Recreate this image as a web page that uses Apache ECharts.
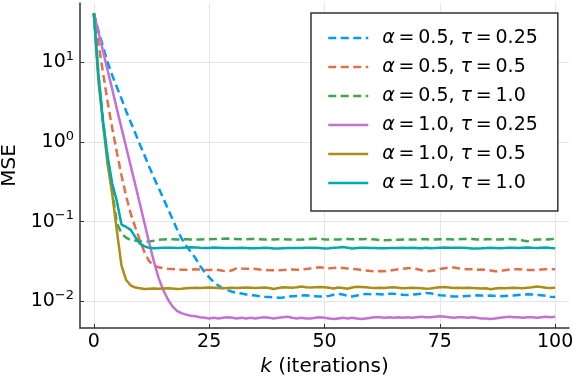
<!DOCTYPE html>
<html>
<head>
<meta charset="utf-8">
<script src="https://cdn.jsdelivr.net/npm/echarts@6/dist/echarts.min.js"></script>
<style>
html,body{margin:0;padding:0;background:#fff}
#main{width:576px;height:384px}
</style>
</head>
<body>
<div id="main"></div>
<script>
// MSE per iteration k = 0..100
var names = ['α = 0.5, τ = 0.25', 'α = 0.5, τ = 0.5', 'α = 0.5, τ = 1.0',
             'α = 1.0, τ = 0.25', 'α = 1.0, τ = 0.5', 'α = 1.0, τ = 1.0'];
var colors = ['#009AFA', '#E36F47', '#3EA44E', '#C371D2', '#AC8D18', '#00A9AD'];
var dashed = [true, true, true, false, false, false];

var xTicks = [0, 25, 50, 75, 100];
var yTicks = [0.01, 0.1, 1, 10];

var mseA05T025 = [41.7, 25.1, 15.8, 10.0, 6.9, 4.9, 3.5, 2.45, 1.78, 1.29,
  0.93, 0.68, 0.49, 0.36, 0.27, 0.20, 0.148, 0.110, 0.081, 0.062,
  0.050, 0.042, 0.035, 0.028, 0.0234, 0.020, 0.0174, 0.0158, 0.0145, 0.0138,
  0.0132, 0.0127, 0.0125, 0.0122, 0.0120, 0.0118, 0.0116, 0.0114, 0.0113, 0.0112,
  0.0111, 0.0112, 0.0114, 0.0116, 0.0117, 0.0118, 0.0119, 0.0117, 0.0116, 0.0115,
  0.0115, 0.0117, 0.0121, 0.0124, 0.0122, 0.0117, 0.0115, 0.0118, 0.0121, 0.0124,
  0.0123, 0.0124, 0.0123, 0.0122, 0.0124, 0.0124, 0.0123, 0.0121, 0.0120, 0.0121,
  0.0123, 0.0125, 0.0127, 0.0126, 0.0122, 0.0119, 0.0118, 0.0116, 0.0115, 0.0115,
  0.0116, 0.0117, 0.0118, 0.0119, 0.0118, 0.0117, 0.0118, 0.0117, 0.0116, 0.0117,
  0.0118, 0.0118, 0.0120, 0.0121, 0.0123, 0.0122, 0.0120, 0.0119, 0.0117, 0.0114,
  0.0113];

var mseA05T05 = [41.7, 17.4, 7.4, 3.16, 1.48, 0.74, 0.38, 0.21, 0.126, 0.085,
  0.058, 0.041, 0.032, 0.028, 0.0268, 0.0262, 0.0257, 0.0255, 0.0252, 0.0250,
  0.0249, 0.0250, 0.0252, 0.0251, 0.0249, 0.0248, 0.0250, 0.0247, 0.0242, 0.0238,
  0.0245, 0.0262, 0.0258, 0.0256, 0.0257, 0.0255, 0.0251, 0.0248, 0.0246, 0.0245,
  0.0245, 0.0247, 0.0250, 0.0251, 0.0249, 0.0251, 0.0255, 0.0259, 0.0263, 0.0267,
  0.0264, 0.0260, 0.0262, 0.0266, 0.0262, 0.0258, 0.0256, 0.0252, 0.0248, 0.0244,
  0.0240, 0.0238, 0.0240, 0.0239, 0.0243, 0.0248, 0.0252, 0.0256, 0.0260, 0.0262,
  0.0255, 0.0246, 0.0238, 0.0240, 0.0246, 0.0254, 0.0260, 0.0265, 0.0266, 0.0260,
  0.0256, 0.0253, 0.0252, 0.0250, 0.0251, 0.0249, 0.0244, 0.0238, 0.0240, 0.0246,
  0.0250, 0.0252, 0.0253, 0.0250, 0.0248, 0.0247, 0.0249, 0.0251, 0.0253, 0.0252,
  0.0253];

var mseA05T10 = [41.7, 7.0, 1.8, 0.62, 0.24, 0.096, 0.071, 0.063, 0.059, 0.058,
  0.0565, 0.0562, 0.0565, 0.0578, 0.0592, 0.0600, 0.0603, 0.0601, 0.0598, 0.0600,
  0.0603, 0.0600, 0.0597, 0.0598, 0.0601, 0.0603, 0.0605, 0.0608, 0.0612, 0.0614,
  0.0610, 0.0605, 0.0602, 0.0603, 0.0605, 0.0607, 0.0603, 0.0598, 0.0596, 0.0598,
  0.0601, 0.0603, 0.0600, 0.0597, 0.0595, 0.0597, 0.0600, 0.0606, 0.0612, 0.0608,
  0.0600, 0.0596, 0.0597, 0.0600, 0.0605, 0.0607, 0.0604, 0.0600, 0.0602, 0.0605,
  0.0603, 0.0598, 0.0588, 0.0585, 0.0588, 0.0592, 0.0595, 0.0597, 0.0598, 0.0596,
  0.0600, 0.0603, 0.0602, 0.0598, 0.0599, 0.0602, 0.0604, 0.0602, 0.0599, 0.0600,
  0.0606, 0.0609, 0.0605, 0.0599, 0.0597, 0.0601, 0.0603, 0.0600, 0.0598, 0.0603,
  0.0606, 0.0603, 0.0596, 0.0582, 0.0570, 0.0584, 0.0597, 0.0600, 0.0596, 0.0604,
  0.0612];

var mseA10T025 = [41.7, 24.0, 13.8, 7.9, 4.6, 2.6, 1.5, 0.87, 0.50, 0.29,
  0.166, 0.095, 0.054, 0.032, 0.020, 0.0141, 0.0107, 0.0087, 0.0076, 0.0071,
  0.0068, 0.0066, 0.0065, 0.0063, 0.0062, 0.0061, 0.0062, 0.0061, 0.0062, 0.0063,
  0.0062, 0.0061, 0.0062, 0.0061, 0.0062, 0.0061, 0.0062, 0.0063, 0.0062, 0.0061,
  0.0062, 0.0063, 0.0064, 0.0062, 0.0061, 0.0062, 0.0061, 0.0061, 0.0062, 0.0063,
  0.0062, 0.0061, 0.0060, 0.0061, 0.0062, 0.0061, 0.0062, 0.0061, 0.0060, 0.0061,
  0.0062, 0.0063, 0.0063, 0.0062, 0.0063, 0.0062, 0.0063, 0.0062, 0.0063, 0.0062,
  0.0063, 0.0064, 0.0063, 0.0063, 0.0064, 0.0065, 0.0064, 0.0063, 0.0062, 0.0063,
  0.0063, 0.0062, 0.0063, 0.0062, 0.0061, 0.0061, 0.0060, 0.0061, 0.0062, 0.0063,
  0.0064, 0.0063, 0.0063, 0.0062, 0.0063, 0.0063, 0.0062, 0.0063, 0.0064, 0.0063,
  0.0064];

var mseA10T05 = [41.7, 5.8, 1.7, 0.52, 0.22, 0.076, 0.028, 0.0185, 0.0158, 0.0149,
  0.0146, 0.0143, 0.0144, 0.0145, 0.0144, 0.0145, 0.0146, 0.0145, 0.0143, 0.0144,
  0.0146, 0.0147, 0.0148, 0.0147, 0.0148, 0.0149, 0.0148, 0.0147, 0.0146, 0.0147,
  0.0148, 0.0147, 0.0148, 0.0149, 0.0148, 0.0147, 0.0148, 0.0149, 0.0147, 0.0143,
  0.0147, 0.0150, 0.0149, 0.0148, 0.0150, 0.0153, 0.0150, 0.0149, 0.0150, 0.0151,
  0.0150, 0.0148, 0.0145, 0.0149, 0.0147, 0.0144, 0.0149, 0.0152, 0.0151, 0.0150,
  0.0148, 0.0147, 0.0148, 0.0147, 0.0149, 0.0150, 0.0148, 0.0146, 0.0147, 0.0148,
  0.0147, 0.0146, 0.0144, 0.0145, 0.0148, 0.0150, 0.0151, 0.0149, 0.0147, 0.0148,
  0.0147, 0.0148, 0.0147, 0.0146, 0.0145, 0.0146, 0.0142, 0.0145, 0.0147, 0.0146,
  0.0147, 0.0148, 0.0147, 0.0146, 0.0148, 0.0150, 0.0153, 0.0151, 0.0148, 0.0147,
  0.0148];

var mseA10T10 = [41.7, 7.0, 1.8, 0.65, 0.30, 0.18, 0.092, 0.086, 0.079, 0.064,
  0.053, 0.049, 0.047, 0.0465, 0.0468, 0.0470, 0.0472, 0.0470, 0.0468, 0.0470,
  0.0473, 0.0478, 0.0476, 0.0470, 0.0467, 0.0469, 0.0474, 0.0472, 0.0468, 0.0466,
  0.0467, 0.0469, 0.0470, 0.0468, 0.0465, 0.0463, 0.0466, 0.0470, 0.0468, 0.0462,
  0.0460, 0.0465, 0.0468, 0.0467, 0.0466, 0.0468, 0.0470, 0.0472, 0.0470, 0.0468,
  0.0461, 0.0465, 0.0470, 0.0474, 0.0480, 0.0471, 0.0460, 0.0466, 0.0470, 0.0472,
  0.0469, 0.0466, 0.0463, 0.0465, 0.0466, 0.0468, 0.0469, 0.0471, 0.0468, 0.0470,
  0.0468, 0.0465, 0.0470, 0.0464, 0.0467, 0.0472, 0.0474, 0.0472, 0.0470, 0.0471,
  0.0470, 0.0466, 0.0462, 0.0461, 0.0463, 0.0466, 0.0470, 0.0468, 0.0465, 0.0468,
  0.0472, 0.0470, 0.0468, 0.0471, 0.0474, 0.0470, 0.0468, 0.0471, 0.0473, 0.0468,
  0.0465];

var allMse = [mseA05T025, mseA05T05, mseA05T10, mseA10T025, mseA10T05, mseA10T10];

var FONT = 'DejaVu Sans';

// 10^n tick labels with a raised exponent
function supLabel(v) {
	var e = String(Math.round(Math.log10(v))).replace('-', '\u2212');
	return '{b|10}{s|' + e + '}';
}

// legend text: italic greek letters, tight spacing round "="
function legendLabel(name) {
	return name.replace('α', '{i|α}').replace('τ', '{i|τ}').replace(/ = /g, '\u2009=\u2009');
}

var series = [];
for (var s = 0; s < allMse.length; s++) {
	series.push({
		name: names[s],
		type: 'line',
		symbol: 'none',
		data: allMse[s].map(function(v, i){ return [i, v]; }),
		lineStyle: {
			color: colors[s],
			width: 2.5,
			type: dashed[s] ? [8, 4.5] : 'solid'
		},
		itemStyle: {color: colors[s]}
	});
}

var myChart = echarts.init(document.getElementById('main'));
var option = {
	animation: false,
	backgroundColor: '#fff',
	textStyle: {fontFamily: FONT},
	grid: {left: 80, right: 7, top: 3, bottom: 56, containLabel: false, outerBoundsMode: 'none'},
	legend: {
		orient: 'vertical',
		left: 311,
		top: 13,
		padding: [15, 20, 18, 16],
		itemWidth: 40,
		itemHeight: 14,
		itemGap: 9,
		backgroundColor: '#fff',
		borderColor: '#333',
		borderWidth: 1.5,
		borderRadius: 0,
		itemStyle: {opacity: 0},
		lineStyle: {width: 2.5},
		formatter: legendLabel,
		textStyle: {
			fontFamily: FONT,
			fontSize: 19,
			color: '#000',
			lineHeight: 20,
			padding: [0, 0, 0, 9],
			rich: {i: {fontStyle: 'italic', fontSize: 19, fontFamily: FONT}}
		}
	},
	xAxis: {
		type: 'value',
		min: -3,
		max: 103,
		name: '{i|k} (iterations)',
		nameLocation: 'middle',
		nameGap: 28,
		nameTextStyle: {fontSize: 20, color: '#000', fontFamily: FONT,
			rich: {i: {fontStyle: 'italic', fontSize: 20, fontFamily: FONT}}},
		axisLine: {show: true, onZero: false, lineStyle: {color: '#333', width: 1.5}},
		axisTick: {show: true, inside: true, length: 4, customValues: xTicks, lineStyle: {color: '#333'}},
		axisLabel: {fontSize: 19, color: '#000', margin: 5, customValues: xTicks},
		splitLine: {show: true, lineStyle: {color: '#e6e6e6', width: 1}}
	},
	yAxis: {
		type: 'log',
		logBase: 10,
		min: 0.00462,
		max: 56,
		name: 'MSE',
		nameLocation: 'middle',
		nameGap: 57,
		nameTextStyle: {fontSize: 20, color: '#000', fontFamily: FONT},
		axisLine: {show: true, onZero: false, lineStyle: {color: '#333', width: 1.5}},
		axisTick: {show: true, inside: true, length: 4, customValues: yTicks, lineStyle: {color: '#333'}},
		minorTick: {show: false},
		axisLabel: {
			color: '#000',
			margin: 6,
			customValues: yTicks,
			formatter: supLabel,
			rich: {
				b: {fontSize: 19, fontFamily: FONT, color: '#000'},
				s: {fontSize: 13, fontFamily: FONT, color: '#000', padding: [0, 0, 12, 0]}
			}
		},
		splitLine: {show: true, lineStyle: {color: '#e6e6e6', width: 1}}
	},
	series: series
};
myChart.setOption(option);
</script>
</body>
</html>
